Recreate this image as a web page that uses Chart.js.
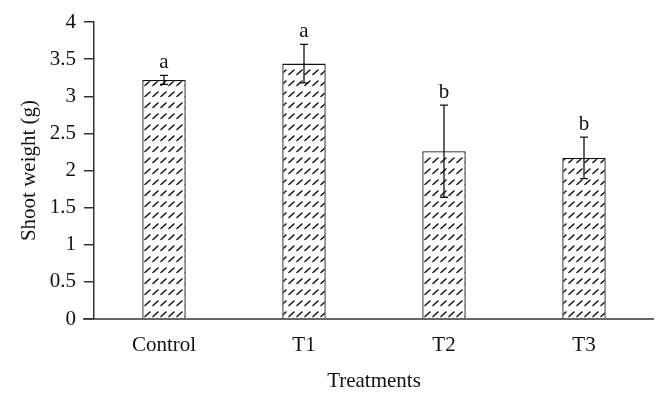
<!DOCTYPE html>
<html>
<head>
<meta charset="utf-8">
<script src="https://cdn.jsdelivr.net/npm/chart.js@4"></script>
<style>
  html, body { margin: 0; padding: 0; background: #fff; }
  #wrap { width: 662px; height: 394px; }
</style>
</head>
<body>
<div id="wrap"><canvas id="shoot_chart" width="662" height="394"></canvas></div>
<script>
var treatments = ['Control', 'T1', 'T2', 'T3'];
var shoot_weight = [3.22, 3.44, 2.26, 2.17];
var shoot_error = [0.06, 0.26, 0.62, 0.28];
var sig_letters = ['a', 'a', 'b', 'b'];
var y_ticks = [0, 0.5, 1, 1.5, 2, 2.5, 3, 3.5, 4];

var serif = "'Liberation Serif', 'DejaVu Serif', serif";

// hatch tile: short slanted dashes
function makeHatch() {
  var c = document.createElement('canvas');
  c.width = 8; c.height = 11;
  var g = c.getContext('2d');
  g.fillStyle = '#fff';
  g.fillRect(0, 0, 8, 11);
  g.strokeStyle = '#111';
  g.lineWidth = 1.5;
  g.lineCap = 'round';
  g.beginPath();
  g.moveTo(1, 8.5);
  g.lineTo(6, 4);
  g.stroke();
  return g.createPattern(c, 'repeat');
}

const errorBars = {
  id: 'errorBars',
  afterDatasetsDraw(chart) {
    const ctx = chart.ctx;
    const y = chart.scales.y;
    const meta = chart.getDatasetMeta(0);
    ctx.save();
    ctx.strokeStyle = '#111';
    ctx.lineWidth = 1.3;
    ctx.fillStyle = '#111';
    ctx.font = '21px ' + serif;
    ctx.textAlign = 'center';
    ctx.textBaseline = 'bottom';
    for (let i = 0; i < shoot_weight.length; i++) {
      const x = meta.data[i].x;
      const top = y.getPixelForValue(shoot_weight[i] + shoot_error[i]);
      const bot = y.getPixelForValue(shoot_weight[i] - shoot_error[i]);
      ctx.beginPath();
      ctx.moveTo(x, top); ctx.lineTo(x, bot);
      ctx.moveTo(x - 4, top); ctx.lineTo(x + 4, top);
      ctx.moveTo(x - 4, bot); ctx.lineTo(x + 4, bot);
      ctx.stroke();
      ctx.fillText(sig_letters[i], x, top - 2);
    }
    // x axis line runs a little past the y axis
    const area = chart.chartArea;
    ctx.strokeStyle = '#333';
    ctx.lineWidth = 1.5;
    ctx.beginPath();
    ctx.moveTo(area.left - 11, area.bottom);
    ctx.lineTo(area.right, area.bottom);
    ctx.stroke();
    ctx.restore();
  }
};

const data = {
  labels: treatments,
  datasets: [{
    label: 'Shoot weight',
    data: shoot_weight,
    backgroundColor: makeHatch(),
    borderColor: '#111',
    borderWidth: 1.3,
    barPercentage: 0.31,
    categoryPercentage: 1.0
  }]
};

const config = {
  type: 'bar',
  data: data,
  options: {
    responsive: false,
    animation: false,
    layout: { padding: { left: 0, right: 8, top: 22, bottom: 0 } },
    scales: {
      x: {
        grid: { display: false },
        border: { display: false },
        ticks: { color: '#111', font: { family: serif, size: 21 }, padding: 6 },
        title: {
          display: true,
          text: 'Treatments',
          color: '#111',
          font: { family: serif, size: 21 },
          padding: { top: 10, bottom: 0 }
        },
        afterFit: function (s) { s.height = 75; }
      },
      y: {
        min: 0,
        max: 4,
        afterBuildTicks: function (s) { s.ticks = y_ticks.map(v => ({ value: v })); },
        grid: {
          drawOnChartArea: false,
          drawTicks: true,
          tickLength: 10,
          tickColor: '#333',
          lineWidth: 1.5
        },
        border: { display: true, color: '#333', width: 1.5 },
        ticks: {
          color: '#111',
          font: { family: serif, size: 21 },
          padding: 8,
          callback: function (v) { return String(v); }
        },
        title: {
          display: true,
          text: 'Shoot weight (g)',
          color: '#111',
          font: { family: serif, size: 21 },
          padding: { top: 17, bottom: 4 }
        },
        afterFit: function (s) { s.width = 94; }
      }
    },
    plugins: {
      legend: { display: false },
      tooltip: { enabled: false }
    }
  },
  plugins: [errorBars]
};

const myChart = new Chart(document.getElementById('shoot_chart'), config);
</script>
</body>
</html>
